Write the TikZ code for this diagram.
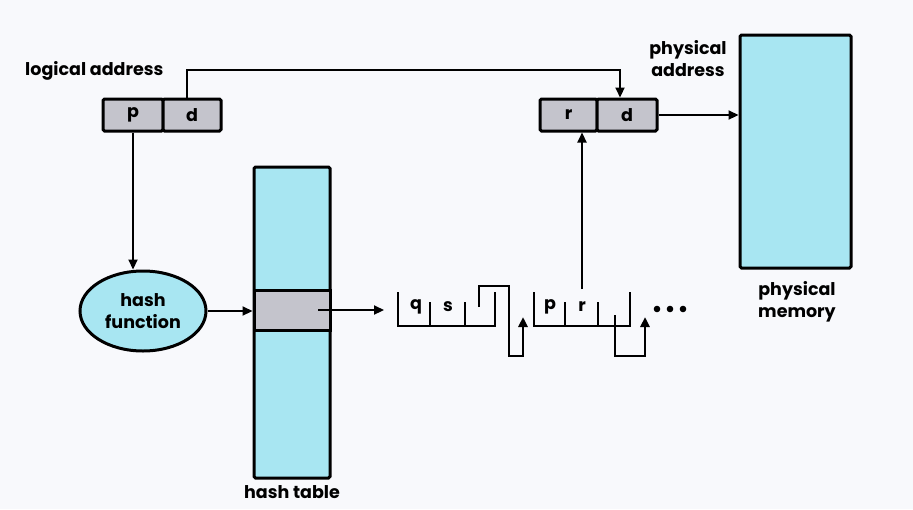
\documentclass[tikz,border=0pt]{standalone}
\usepackage{fontspec}
\setmainfont{Poppins}
\usetikzlibrary{arrows.meta,shapes.geometric,calc}
\definecolor{bg}{HTML}{F8F9FC}
\definecolor{cyanfill}{HTML}{A8E6F2}
\definecolor{grayfill}{HTML}{C4C4CC}
\begin{document}
\begin{tikzpicture}[x=1pt,y=-1pt,
  lbl/.style={font=\fontsize{17.5}{22}\selectfont\bfseries,inner sep=0pt,align=center},
  field/.style={draw,line width=3pt,fill=grayfill,rounded corners=1.5pt,minimum height=32pt,inner sep=0pt,font=\fontsize{17.5}{22}\selectfont\bfseries},
  blk/.style={draw,line width=3pt,fill=cyanfill,rounded corners=1.5pt,inner sep=0pt},
  arr/.style={line width=2.2pt,-{Triangle[length=10pt,width=9pt]}},
  chain/.style={line width=2.5pt}]
\fill[bg] (0,0) rectangle (913,509);
\useasboundingbox (0,0) rectangle (913,509);
% logical address
\node[lbl,anchor=west] (lal) at (25,71) {logical address};
\node[field,minimum width=60pt] (lp) at (133,115) {p};
\node[field,minimum width=58pt] (ld) at (192,115) {d};
% physical address
\node[lbl] (pal) at (688,59) {physical\\address};
\node[field,minimum width=57pt] (pr) at (568.5,115) {r};
\node[field,minimum width=60pt] (pd) at (627,115) {d};
% physical memory
\node[blk,minimum width=111pt,minimum height=233pt] (pm) at (795.5,151.5) {};
\node[lbl] (pml) at (797,302) {physical\\memory};
% hash function
\node[ellipse,minimum width=126pt,minimum height=80pt,lbl,draw,line width=3pt,fill=cyanfill] (hf) at (143,311) {hash\\function};
% hash table
\node[blk,minimum width=76pt,minimum height=311pt] (ht) at (292,322.5) {};
\node[draw,line width=3pt,fill=grayfill,minimum width=76pt,minimum height=40pt,inner sep=0pt] (hrow) at (292,310) {};
\node[lbl] (htl) at (292,492) {hash table};
% connectors
\coordinate (topc) at (400,70);
\draw[arr] ([xshift=-5pt]ld.north) |- (topc) -| ([xshift=-7pt]pd.north);
\draw[arr] (pd.east) -- (pd.east -| pm.west);
\draw[arr] (lp.south) -- (lp.south |- hf.north);
\draw[arr] (hf.east) -- (hf.east -| ht.west);
\coordinate (hs) at (318,310);
\coordinate (he) at (384,310);
\draw[arr] (hs) -- (he);
% chain node 1
\draw[chain] (398,292) -- (398,326) -- (495,326) -- (495,292);
\draw[chain] (430,326) -- (430,302);
\draw[chain] (465,326) -- (465,302);
\node[lbl] (q) at (416,307) {q};
\node[lbl] (s) at (448,307) {s};
\coordinate (c1s) at (479,307);
\coordinate (c1e) at (523,317);
\draw[chain,-{Triangle[length=10pt,width=9pt]}] (c1s) -- (479,286) -- (509,286) -- (509,356) -- (523,356) -- (c1e);
% chain node 2
\draw[chain] (534,292) -- (534,326) -- (630,326) -- (630,292);
\draw[chain] (565,326) -- (565,302);
\draw[chain] (598,326) -- (598,302);
\node[lbl] (p2) at (550,307) {p};
\node[lbl] (r2) at (582,307) {r};
\coordinate (r2s) at (582,289);
\draw[arr] (r2s) -- (r2s |- pr.south);
\coordinate (c2s) at (615,315);
\coordinate (c2e) at (645,317);
\draw[chain,-{Triangle[length=10pt,width=9pt]}] (c2s) -- (615,356) -- (645,356) -- (c2e);
% dots
\fill (657,309) circle (3.3pt);
\fill (670,309) circle (3.3pt);
\fill (683,309) circle (3.3pt);
\end{tikzpicture}
\end{document}
